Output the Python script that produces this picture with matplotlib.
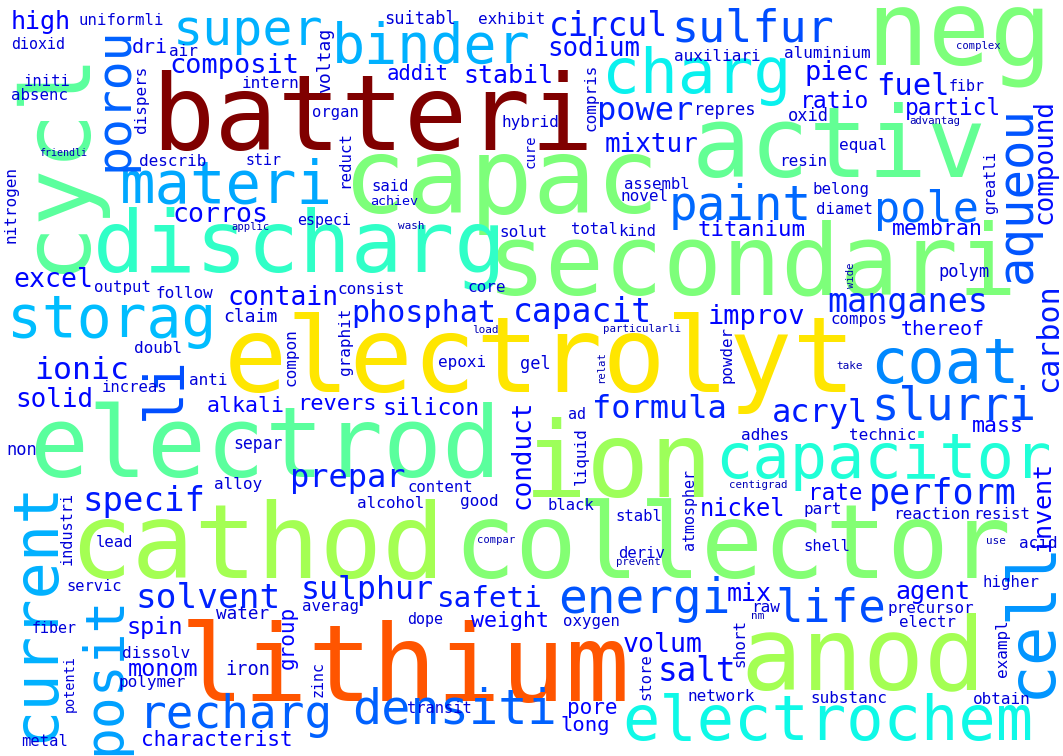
import matplotlib
matplotlib.use("Agg")
import matplotlib.pyplot as plt

# word stems and their relative frequency (colour comes from this)
words_major = ["batteri", "lithium", "electrolyt", "cathod", "collector", "anod", "capac", "activ",
               "neg", "secondari", "cycl", "electrod", "ion", "discharg", "charg", "capacitor",
               "electrochem", "storag", "super", "binder", "materi", "current", "posit", "coat",
               "cell", "porou", "pole", "aqueou", "paint", "energi", "densiti", "recharg",
               "life", "slurri", "sulfur", "li", "circul", "sodium", "power", "mixtur",
               "composit", "manganes", "carbon", "phosphat", "capacit", "formula", "acryl", "perform",
               "solvent", "sulphur", "safeti", "prepar", "specif", "ionic", "salt", "fuel",
               "improv", "compound", "piec", "contain", "corros", "excel", "solid", "volum",
               "conduct", "agent", "stabil", "mix", "invent", "spin", "monom", "nickel",
               "ratio", "silicon", "particl", "titanium", "rate", "revers", "membran", "alkali",
               "mass", "weight", "characterist", "pore", "long", "group", "addit", "thereof",
               "high", "dri"]
weights_major = [1.00, 0.82, 0.665, 0.55, 0.51, 0.55, 0.50, 0.47,
                 0.50, 0.50, 0.46, 0.46, 0.54, 0.41, 0.36, 0.39,
                 0.37, 0.31, 0.30, 0.30, 0.29, 0.30, 0.285, 0.26,
                 0.27, 0.22, 0.23, 0.21, 0.23, 0.21, 0.22, 0.22,
                 0.20, 0.20, 0.20, 0.20, 0.15, 0.14, 0.16, 0.14,
                 0.14, 0.16, 0.15, 0.15, 0.15, 0.16, 0.15, 0.16,
                 0.16, 0.15, 0.15, 0.15, 0.15, 0.14, 0.14, 0.14,
                 0.13, 0.14, 0.13, 0.13, 0.13, 0.13, 0.13, 0.13,
                 0.13, 0.13, 0.12, 0.12, 0.12, 0.12, 0.12, 0.12,
                 0.12, 0.12, 0.12, 0.12, 0.12, 0.11, 0.11, 0.11,
                 0.11, 0.11, 0.11, 0.11, 0.11, 0.11, 0.11, 0.11,
                 0.12, 0.10]
words_minor = ["uniformli", "dioxid", "air", "initi", "absenc", "intern", "dispers", "describ",
               "stir", "nitrogen", "suitabl", "exhibit", "voltag", "organ", "hybrid", "cure",
               "reduct", "said", "especi", "solut", "auxiliari", "aluminium", "compris", "repres",
               "oxid", "assembl", "novel", "total", "kind", "resin", "fibr", "equal",
               "greatli", "belong", "diamet", "output", "follow", "claim", "doubl", "increas",
               "anti", "non", "separ", "alloy", "industri", "consist", "core", "graphit",
               "compon", "epoxi", "gel", "content", "alcohol", "good", "powder", "ad",
               "adhes", "liquid", "atmospher", "black", "polym", "compos", "technic", "lead",
               "servic", "fiber", "potenti", "metal", "water", "dissolv", "polymer", "iron",
               "averag", "dope", "zinc", "transit", "stabl", "deriv", "raw", "oxygen",
               "short", "store", "network", "part", "reaction", "resist", "acid", "shell",
               "higher", "precursor", "electr", "exampl", "substanc", "obtain", "achiev"]
weight_minor = 0.08
words_tiny = ["friendli", "applic", "wash", "complex", "advantag", "load", "particularli",
              "relat", "centigrad", "wide", "take", "compar", "prevent", "nm", "use"]
weight_tiny = 0.05

# placement: x, y (px), em size (px), rotation
# horizontal words: x = left of ink, y = baseline
# vertical words:   x = baseline, y = bottom of ink
layout = {
    "batteri": (160, 150, 105, 0), "lithium": (188, 701, 107, 0),
    "electrolyt": (232, 392, 105, 0), "cathod": (77, 577, 104, 0),
    "collector": (461, 578, 103, 0), "anod": (749, 689, 102, 0),
    "capac": (351, 213, 105, 0), "activ": (699, 177, 98, 0),
    "neg": (874, 65, 103, 0), "secondari": (495, 295, 98, 0),
    "cycl": (82, 265, 94, 90), "electrod": (37, 477, 98, 0),
    "ion": (532, 497, 105, 0), "discharg": (100, 272, 86, 0),
    "charg": (607, 93, 63, 0), "capacitor": (720, 478, 62, 0),
    "electrochem": (627, 740, 62, 0), "storag": (12, 337, 58, 0),
    "super": (177, 45, 50, 0), "binder": (336, 63, 55, 0),
    "materi": (125, 203, 59, 0), "current": (53, 737, 62, 90),
    "posit": (119, 751, 53, 90), "coat": (875, 383, 62, 0),
    "cell": (1050, 693, 66, 90), "porou": (128, 167, 48, 90),
    "pole": (877, 222, 43.5, 0), "aqueou": (1031, 279, 49, 90),
    "paint": (672, 220, 47.6, 0), "energi": (562, 613, 47.7, 0),
    "densiti": (356, 723, 48.5, 0), "recharg": (143, 728, 46, 0),
    "life": (779, 621, 46, 0), "slurri": (875, 420, 45.7, 0),
    "sulfur": (675, 42, 45, 0), "li": (180, 416, 53, 90),
    "circul": (552, 36, 33, 0), "sodium": (549, 56, 25.7, 0),
    "power": (600, 120, 32, 0), "mixtur": (607, 152, 26, 0),
    "composit": (172, 73, 27, 0), "manganes": (830, 312, 33.4, 0),
    "carbon": (1057, 390, 30, 90), "phosphat": (354, 322, 30, 0),
    "capacit": (516, 322, 33, 0), "formula": (595, 418, 32, 0),
    "acryl": (774, 422, 32, 0), "perform": (872, 504, 35, 0),
    "solvent": (138, 608, 34.4, 0), "sulphur": (303, 599, 31.7, 0),
    "safeti": (439, 607, 29.4, 0), "prepar": (293, 487, 32, 0),
    "specif": (85, 511, 34, 0), "ionic": (37, 379, 31.5, 0),
    "salt": (660, 681, 32.6, 0), "fuel": (879, 95, 30.5, 0),
    "improv": (710, 324, 27, 0), "compound": (1052, 222, 26, 90),
    "piec": (807, 80, 27, 0), "contain": (230, 305, 26.4, 0),
    "corros": (175, 222, 26.5, 0), "excel": (15, 287, 26.5, 0),
    "solid": (17, 407, 26, 0), "volum": (625, 652, 26.5, 0),
    "conduct": (529, 507, 26, 90), "agent": (897, 599, 25, 0),
    "stabil": (465, 83, 25, 0), "mix": (729, 601, 25, 0),
    "invent": (1050, 549, 25, 90), "spin": (128, 634, 23.5, 0),
    "monom": (130, 676, 23.5, 0), "nickel": (702, 516, 23.7, 0),
    "ratio": (802, 108, 23, 0), "silicon": (384, 415, 23, 0),
    "particl": (907, 115, 22.7, 0), "titanium": (699, 236, 22.4, 0),
    "rate": (810, 500, 22.6, 0), "revers": (299, 410, 22, 0),
    "membran": (894, 235, 21.5, 0), "alkali": (208, 412, 21.5, 0),
    "mass": (974, 432, 21.7, 0), "weight": (473, 627, 21.7, 0),
    "characterist": (143, 746, 21, 0), "pore": (569, 714, 21, 0),
    "long": (562, 731, 20.5, 0), "group": (294, 667, 21, 90),
    "addit": (388, 80, 20.7, 0), "thereof": (902, 335, 20, 0),
    "high": (13, 29, 25, 0), "dri": (133, 53, 20, 0),
    "uniformli": (80, 25, 15.8, 0), "dioxid": (12, 49, 15, 0),
    "air": (170, 56, 16, 0), "initi": (25, 86, 15.5, 0),
    "absenc": (12, 100, 15.7, 0), "intern": (243, 88, 16, 0),
    "dispers": (146, 132, 16, 90), "describ": (140, 166, 16, 0),
    "stir": (247, 165, 15, 0), "friendli": (40, 156, 10, 0),
    "nitrogen": (16, 242, 16, 90), "applic": (232, 230, 10.5, 0),
    "suitabl": (386, 24, 17, 0), "exhibit": (479, 24, 16, 0),
    "voltag": (330, 92, 18, 90), "organ": (313, 117, 15.5, 0),
    "hybrid": (503, 127, 16, 0), "cure": (535, 167, 14, 90),
    "reduct": (349, 187, 15.7, 90), "said": (373, 191, 15.6, 0),
    "achiev": (371, 205, 13.4, 0), "especi": (298, 225, 15, 0),
    "wash": (399, 229, 11, 0), "solut": (501, 237, 16, 0),
    "auxiliari": (675, 61, 16, 0), "aluminium": (785, 58, 16, 0),
    "compris": (595, 130, 16, 90), "repres": (695, 115, 17, 0),
    "oxid": (789, 121, 17, 0), "assembl": (625, 189, 15.6, 0),
    "novel": (622, 201, 16, 0), "total": (572, 234, 15.5, 0),
    "kind": (619, 236, 15.7, 0), "resin": (780, 166, 16, 0),
    "complex": (957, 49, 10.5, 0), "fibr": (950, 91, 15, 0),
    "advantag": (910, 124, 10.6, 0), "equal": (840, 150, 16, 0),
    "greatli": (995, 213, 15, 90), "belong": (814, 194, 15.7, 0),
    "diamet": (817, 214, 15.7, 0), "output": (95, 292, 15.7, 0),
    "follow": (157, 298, 16, 0), "claim": (225, 322, 18, 0),
    "doubl": (135, 353, 16, 0), "increas": (103, 392, 15.6, 0),
    "anti": (190, 385, 16, 0), "non": (8, 455, 17, 0),
    "separ": (235, 449, 16.5, 0), "alloy": (215, 489, 16, 0),
    "industri": (72, 564, 15.3, 90), "consist": (339, 294, 16, 0),
    "core": (469, 292, 16, 0), "graphit": (350, 374, 16, 90),
    "compon": (295, 385, 16, 90), "load": (473, 333, 11, 0),
    "epoxi": (439, 367, 16, 0), "gel": (521, 369, 17, 0),
    "content": (409, 492, 15.6, 0), "alcohol": (358, 508, 16, 0),
    "good": (461, 506, 16, 0), "particularli": (604, 332, 10.7, 0),
    "powder": (731, 382, 15.7, 90), "relat": (604, 382, 10.5, 90),
    "ad": (569, 419, 15, 0), "adhes": (742, 440, 16, 0),
    "liquid": (586, 484, 16, 90), "atmospher": (694, 549, 15, 90),
    "centigrad": (730, 488, 10.8, 0), "black": (549, 510, 15.5, 0),
    "polym": (940, 277, 17, 0), "wide": (854, 287, 10.5, 90),
    "compos": (832, 324, 15.7, 0), "take": (837, 369, 11, 0),
    "technic": (850, 440, 16, 0), "lead": (97, 547, 15.6, 0),
    "servic": (68, 591, 15.4, 0), "fiber": (33, 633, 15, 0),
    "potenti": (74, 711, 13.5, 90), "metal": (22, 746, 15.5, 0),
    "water": (217, 619, 17.6, 0), "dissolv": (123, 658, 16.3, 0),
    "polymer": (120, 687, 16, 0), "iron": (227, 675, 18.7, 0),
    "averag": (303, 611, 15.7, 0), "dope": (408, 624, 15, 0),
    "zinc": (323, 696, 15, 90), "transit": (408, 713, 15.4, 0),
    "compar": (478, 543, 10.5, 0), "stabl": (617, 521, 15.6, 0),
    "deriv": (619, 558, 15.6, 0), "prevent": (617, 565, 10.5, 0),
    "raw": (752, 612, 16, 0), "nm": (752, 619, 11, 0),
    "oxygen": (564, 626, 15.7, 0), "short": (744, 666, 16, 90),
    "store": (650, 699, 15.5, 90), "network": (689, 701, 16, 0),
    "part": (805, 514, 16, 0), "reaction": (894, 519, 16, 0),
    "resist": (975, 519, 15.7, 0), "acid": (1020, 548, 16, 0),
    "use": (987, 544, 11, 0), "shell": (805, 551, 15.6, 0),
    "higher": (984, 587, 15.7, 0), "precursor": (889, 613, 16, 0),
    "electr": (900, 627, 15.7, 0), "exampl": (1007, 676, 16, 90),
    "substanc": (812, 703, 16, 0), "obtain": (974, 704, 16, 0),
}

W, H = 1063, 756
DPI = 100

words = words_major + words_minor + words_tiny
weights = weights_major + [weight_minor] * len(words_minor) + [weight_tiny] * len(words_tiny)
wmax = max(weights)

fig = plt.figure(figsize=(W / DPI, H / DPI), dpi=DPI, facecolor="white")
ax = fig.add_axes([0, 0, 1, 1])
ax.set_xlim(0, W)
ax.set_ylim(H, 0)
ax.axis("off")

for word, wt in zip(words, weights):
    x, y, em, rot = layout[word]
    bearing = 0.08 * em
    if rot == 0:
        x = x - bearing
    else:
        y = y + bearing
    ax.text(x, y, word, fontsize=em * 72 / DPI, family="DejaVu Sans Mono",
            color=plt.cm.jet(wt / wmax), rotation=rot, rotation_mode="anchor",
            ha="left", va="baseline")

fig.savefig("out.png", dpi=DPI, facecolor="white")
